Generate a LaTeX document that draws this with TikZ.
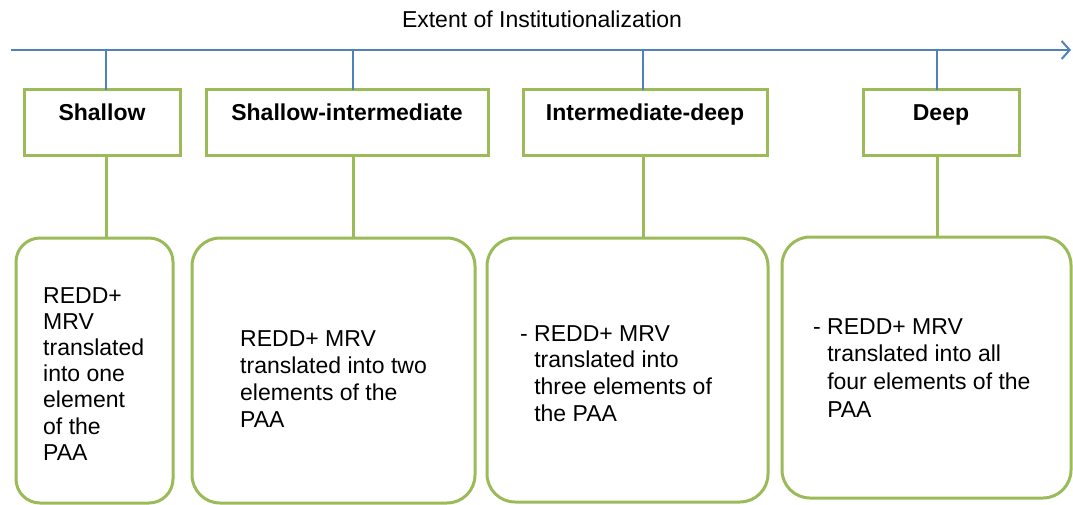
\documentclass[tikz,border=0pt]{standalone}
\usepackage{fontspec}
\setmainfont{Liberation Sans}
\usetikzlibrary{arrows.meta}

\definecolor{axisblue}{HTML}{4F81BD}
\definecolor{boxgreen}{HTML}{9BBB59}

\tikzset{
	stagebox/.style={draw=boxgreen, line width=3pt, anchor=north, inner xsep=0pt, inner ysep=0pt,
		outer sep=0pt, text height=31pt, text depth=35pt, font=\bfseries\fontsize{23}{27}\selectfont},
	detailbox/.style={draw=boxgreen, line width=3pt, rounded corners=28pt, anchor=north, outer sep=0pt},
	desc/.style={anchor=north west, inner sep=0pt, align=left, font=\fontsize{23}{27}\selectfont},
	axisline/.style={draw=axisblue, line width=2pt},
	linkline/.style={draw=boxgreen, line width=3pt}
}

\begin{document}
\begin{tikzpicture}[x=1pt, y=-1pt]
	\useasboundingbox (0,0) rectangle (1073,505);
	% title and axis
	\node[anchor=base, inner sep=0pt, font=\fontsize{23}{27}\selectfont] (title) at (542,28) {Extent of Institutionalization};
	\coordinate (axstart) at (11,50);
	\coordinate (axend) at (1071,50);
	\draw[axisline, -{Straight Barb[length=8pt,width=18pt]}] (axstart) -- (axend);
	\coordinate (t1) at (106,50);
	\coordinate (t2) at (353,50);
	\coordinate (t3) at (643,50);
	\coordinate (t4) at (937,50);
	% stages
	\node[stagebox, minimum width=156pt] (s1) at (102,90) {Shallow};
	\node[stagebox, minimum width=282pt] (s2) at (347,90) {Shallow-intermediate};
	\node[stagebox, minimum width=244pt] (s3) at (645,90) {Intermediate-deep};
	\node[stagebox, minimum width=156pt] (s4) at (941,90) {Deep};
	% detail boxes
	\node[detailbox, rounded corners=24pt, minimum width=157pt, minimum height=265pt] (d1) at (94.5,238) {};
	\node[detailbox, minimum width=283pt, minimum height=265pt] (d2) at (333.5,238) {};
	\node[detailbox, minimum width=281pt, minimum height=264pt] (d3) at (627.5,238) {};
	\node[detailbox, minimum width=289pt, minimum height=261pt] (d4) at (926.5,237) {};
	\node[desc, font=\fontsize{23}{26.2}\selectfont] (txt1) at (43,287) {REDD+\\MRV\\translated\\into one\\element\\of the\\PAA};
	\node[desc] (txt2) at (240,330) {REDD+ MRV\\translated into two\\elements of the\\PAA};
	\node[desc, font=\fontsize{23}{26.7}\selectfont] (txt3) at (520,325) {-~REDD+ MRV\\\phantom{-~}translated into\\\phantom{-~}three elements of\\\phantom{-~}the PAA};
	\node[desc, font=\fontsize{23}{27.7}\selectfont] (txt4) at (813,318) {-~REDD+ MRV\\\phantom{-~}translated into all\\\phantom{-~}four elements of the\\\phantom{-~}PAA};
	% connectors
	\foreach \i in {1,...,4}{
		\draw[axisline] (t\i) -- (t\i |- s\i.north);
		\draw[linkline] (t\i |- s\i.south) -- (t\i |- d\i.north);
	}
\end{tikzpicture}
\end{document}
